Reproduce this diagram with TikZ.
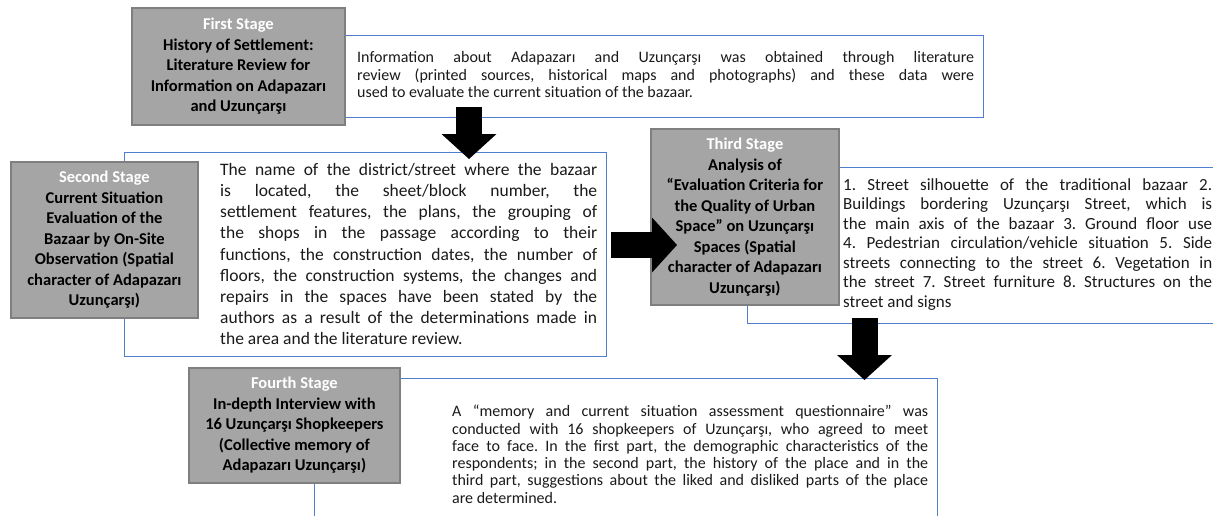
\documentclass[tikz,border=0pt]{standalone}
\usepackage{fontspec}
\setmainfont{Carlito}
\usetikzlibrary{arrows.meta}
\definecolor{gfill}{HTML}{A5A5A5}
\definecolor{gline}{HTML}{7F7F7F}
\definecolor{bline}{HTML}{4F7FCC}
\definecolor{txt}{HTML}{1A1A1A}
\newcommand\JL[2]{\makebox[#1][s]{#2}}
\frenchspacing
\begin{document}
\begin{tikzpicture}[x=1pt,y=-1pt,
  graybox/.style={fill=gfill,draw=gline,line width=1.8pt,inner sep=0pt,align=center,anchor=north west,font=\fontsize{16.5}{20.5}\selectfont\bfseries\frenchspacing,text=black},
  textbox/.style={draw=bline,line width=1.2pt,fill=white,inner sep=0pt,anchor=north west},
  para/.style={inner sep=0pt,anchor=north west,align=left,text=txt},
  blockarrow/.style={line width=26pt,-{Triangle[length=25pt,width=55pt,line width=0pt]}},
]
\useasboundingbox (0,0) rectangle (1213,515);
\fill[white] (0,0) rectangle (1213,515);

% text boxes (drawn first, gray boxes overlap them)
\node[textbox,minimum width=743,minimum height=82] (b1) at (240,35) {};
\node[textbox,minimum width=482,minimum height=204] (b2) at (124,152) {};
\node[textbox,minimum width=470,minimum height=156] (b3) at (747,167) {};
\node[textbox,minimum width=623,minimum height=150] (b4) at (314,378) {};

% gray stage boxes
\node[graybox,minimum width=213,minimum height=117] (g1) at (131,7)
 {\textcolor{white}{First Stage}\\History of Settlement:\\Literature Review for\\Information on Adapazarı\\and Uzunçarşı};
\node[graybox,minimum width=187,minimum height=156] (g2) at (10,161)
 {\textcolor{white}{Second Stage}\\Current Situation\\Evaluation of the\\Bazaar by On-Site\\Observation (Spatial\\character of Adapazarı\\Uzunçarşı)};
\node[graybox,minimum width=188,minimum height=176] (g3) at (650,128)
 {\textcolor{white}{Third Stage}\\Analysis of\\“Evaluation Criteria for\\the Quality of Urban\\Space” on Uzunçarşı\\Spaces (Spatial\\character of Adapazarı\\Uzunçarşı)};
\node[graybox,minimum width=211,minimum height=115] (g4) at (188,367)
 {\textcolor{white}{Fourth Stage}\\In-depth Interview with\\16 Uzunçarşı Shopkeepers\\(Collective memory of\\Adapazarı Uzunçarşı)};

% paragraphs
\node[para,font=\fontsize{16}{17.8}\selectfont\frenchspacing] (t1) at (357,51) {%
\JL{617pt}{Information about Adapazarı and Uzunçarşı was obtained through literature}\\
\JL{617pt}{review (printed sources, historical maps and photographs) and these data were}\\
used to evaluate the current situation of the bazaar.};

\node[para,font=\fontsize{17.5}{21.2}\selectfont\frenchspacing] (t2) at (220,163) {%
\JL{377pt}{The name of the district/street where the bazaar}\\
\JL{377pt}{is located, the sheet/block number, the}\\
\JL{377pt}{settlement features, the plans, the grouping of}\\
\JL{377pt}{the shops in the passage according to their}\\
\JL{377pt}{functions, the construction dates, the number of}\\
\JL{377pt}{floors, the construction systems, the changes and}\\
\JL{377pt}{repairs in the spaces have been stated by the}\\
\JL{377pt}{authors as a result of the determinations made in}\\
the area and the literature review.};

\node[para,font=\fontsize{17}{19.5}\selectfont\frenchspacing] (t3) at (843,178) {%
\JL{369pt}{1. Street silhouette of the traditional bazaar 2.}\\
\JL{369pt}{Buildings bordering Uzunçarşı Street, which is}\\
\JL{369pt}{the main axis of the bazaar 3. Ground floor use}\\
\JL{369pt}{4. Pedestrian circulation/vehicle situation 5. Side}\\
\JL{369pt}{streets connecting to the street 6. Vegetation in}\\
\JL{369pt}{the street 7. Street furniture 8. Structures on the}\\
street and signs};

\node[para,font=\fontsize{16}{17.3}\selectfont\frenchspacing] (t4) at (452,405) {%
\JL{476pt}{A “memory and current situation assessment questionnaire” was}\\
\JL{476pt}{conducted with 16 shopkeepers of Uzunçarşı, who agreed to meet}\\
\JL{476pt}{face to face. In the first part, the demographic characteristics of the}\\
\JL{476pt}{respondents; in the second part, the history of the place and in the}\\
\JL{476pt}{third part, suggestions about the liked and disliked parts of the place}\\
are determined.};

% block arrows
\coordinate (a1s) at (469,107);
\coordinate (a1e) at (469,159);
\coordinate (a2s) at (611,245);
\coordinate (a2e) at (677,245);
\coordinate (a3s) at (864.5,318);
\coordinate (a3e) at (864.5,380);
\draw[blockarrow] (a1s) -- (a1e);
\draw[blockarrow] (a2s) -- (a2e);
\draw[blockarrow] (a3s) -- (a3e);
\end{tikzpicture}
\end{document}
